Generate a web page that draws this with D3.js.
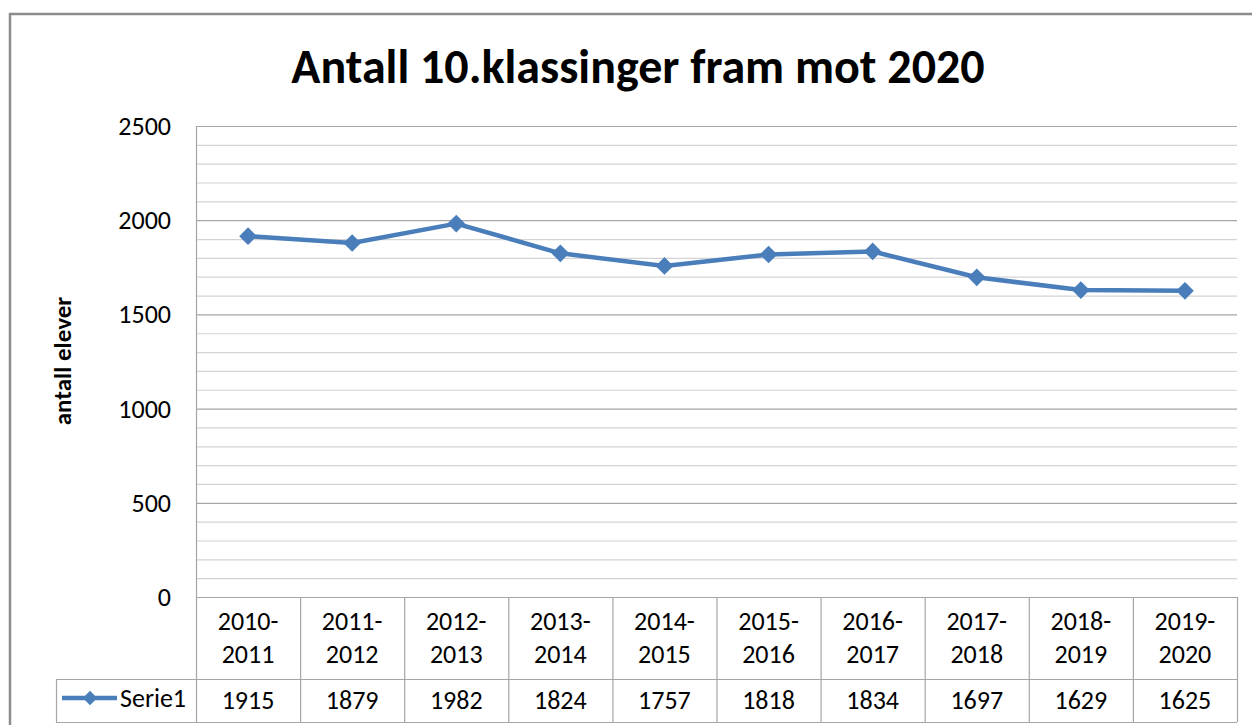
<!DOCTYPE html>
<html>
<head>
<meta charset="utf-8">
<script src="https://cdn.jsdelivr.net/npm/d3@7"></script>
<style>
body { margin: 0; background: #fff; }
text { font-family: Carlito, Calibri, Lato, "Open Sans", sans-serif; fill: #000; }
</style>
</head>
<body>
<script>
const title = 'Antall 10.klassinger fram mot 2020'
const yTitle = 'antall elever'
const seriesName = 'Serie1'
const years = ['2010-2011', '2011-2012', '2012-2013', '2013-2014', '2014-2015',
    '2015-2016', '2016-2017', '2017-2018', '2018-2019', '2019-2020']
const values = [1915, 1879, 1982, 1824, 1757, 1818, 1834, 1697, 1629, 1625]
const yTicks = [0, 500, 1000, 1500, 2000, 2500]

const chart = () => {
    var width = 1252,
        height = 725
    var svg = d3.select('body').append('svg')
        .attr('width', width)
        .attr('height', height)

    // chart frame
    svg.append('rect')
        .attr('x', 10).attr('y', 14)
        .attr('width', 1260).attr('height', 730)
        .attr('fill', 'none')
        .attr('stroke', '#8c8c8c')
        .attr('stroke-width', 2.5)

    var pLeft = 196, pRight = 1237, pTop = 126, pBottom = 597
    var blue = '#4a7ebb'

    var x = d3.scaleBand().domain(years).range([pLeft, pRight])
    var y = d3.scaleLinear().domain([0, 2500]).range([pBottom, pTop])

    svg.append('text')
        .attr('x', 638).attr('y', 83)
        .attr('text-anchor', 'middle')
        .attr('font-size', 48)
        .attr('font-weight', 'bold')
        .text(title)

    // gridlines, minor every 100
    svg.append('g').selectAll('line')
        .data(d3.range(100, 2600, 100))
        .enter().append('line')
        .attr('x1', pLeft).attr('x2', pRight)
        .attr('y1', d => y(d) + 0.5).attr('y2', d => y(d) + 0.5)
        .attr('stroke', d => d % 500 == 0 ? '#a6a6a6' : '#d4d4d4')
        .attr('stroke-width', 1.2)

    // y axis labels
    svg.append('g').selectAll('text')
        .data(yTicks).enter().append('text')
        .attr('x', 171).attr('y', d => y(d) + 9)
        .attr('text-anchor', 'end')
        .attr('font-size', 26)
        .attr('fill', '#222')
        .text(d => d)

    svg.append('text')
        .attr('transform', 'translate(71,361) rotate(-90)')
        .attr('text-anchor', 'middle')
        .attr('font-size', 25)
        .attr('font-weight', 'bold')
        .text(yTitle)

    // data table
    var rowMid = 679, rowBot = 722, tableLeft = 56
    var tg = svg.append('g').attr('stroke', '#a6a6a6').attr('stroke-width', 1.2)
    tg.append('line').attr('x1', pLeft + 0.5).attr('x2', pLeft + 0.5).attr('y1', pTop).attr('y2', rowBot)
    tg.append('line').attr('x1', pLeft).attr('x2', pRight).attr('y1', pBottom + 0.5).attr('y2', pBottom + 0.5)
    tg.append('line').attr('x1', tableLeft).attr('x2', pRight).attr('y1', rowMid + 0.5).attr('y2', rowMid + 0.5)
    tg.append('line').attr('x1', tableLeft).attr('x2', pRight).attr('y1', rowBot + 0.5).attr('y2', rowBot + 0.5)
    tg.append('line').attr('x1', tableLeft + 0.5).attr('x2', tableLeft + 0.5).attr('y1', rowMid).attr('y2', rowBot)
    tg.selectAll('.col').data(years).enter().append('line')
        .attr('x1', d => x(d) + x.bandwidth() + 0.5).attr('x2', d => x(d) + x.bandwidth() + 0.5)
        .attr('y1', pBottom).attr('y2', rowBot)

    var cat = svg.append('g').selectAll('text')
        .data(years).enter().append('text')
        .attr('text-anchor', 'middle')
        .attr('font-size', 26)
        .attr('fill', '#222')
    cat.append('tspan')
        .attr('x', d => x(d) + x.bandwidth() / 2).attr('y', 630)
        .text(d => d.split('-')[0] + '-')
    cat.append('tspan')
        .attr('x', d => x(d) + x.bandwidth() / 2).attr('y', 663)
        .text(d => d.split('-')[1])

    svg.append('g').selectAll('text')
        .data(values).enter().append('text')
        .attr('x', (d, i) => x(years[i]) + x.bandwidth() / 2)
        .attr('y', 709)
        .attr('text-anchor', 'middle')
        .attr('font-size', 26)
        .attr('fill', '#222')
        .text(d => d)

    // legend key in table
    svg.append('line')
        .attr('x1', 62).attr('x2', 117).attr('y1', 698).attr('y2', 698)
        .attr('stroke', blue).attr('stroke-width', 4.5)
    svg.append('path').attr('d', d3.symbol().type(d3.symbolDiamond2).size(130))
        .attr('transform', 'translate(90,698)')
        .attr('fill', blue)
    svg.append('text')
        .attr('x', 120).attr('y', 707)
        .attr('font-size', 26)
        .attr('fill', '#222')
        .text(seriesName)

    // series line
    var line = d3.line()
        .x((d, i) => x(years[i]) + x.bandwidth() / 2)
        .y(d => y(d))
    svg.append('path')
        .datum(values)
        .attr('d', line)
        .attr('fill', 'none')
        .attr('stroke', blue)
        .attr('stroke-width', 4.5)
        .attr('stroke-linejoin', 'round')

    svg.append('g').selectAll('path')
        .data(values).enter().append('path')
        .attr('d', d3.symbol().type(d3.symbolDiamond2).size(200))
        .attr('transform', (d, i) => `translate(${x(years[i]) + x.bandwidth() / 2},${y(d)})`)
        .attr('fill', blue)
}
chart()
</script>
</body>
</html>
